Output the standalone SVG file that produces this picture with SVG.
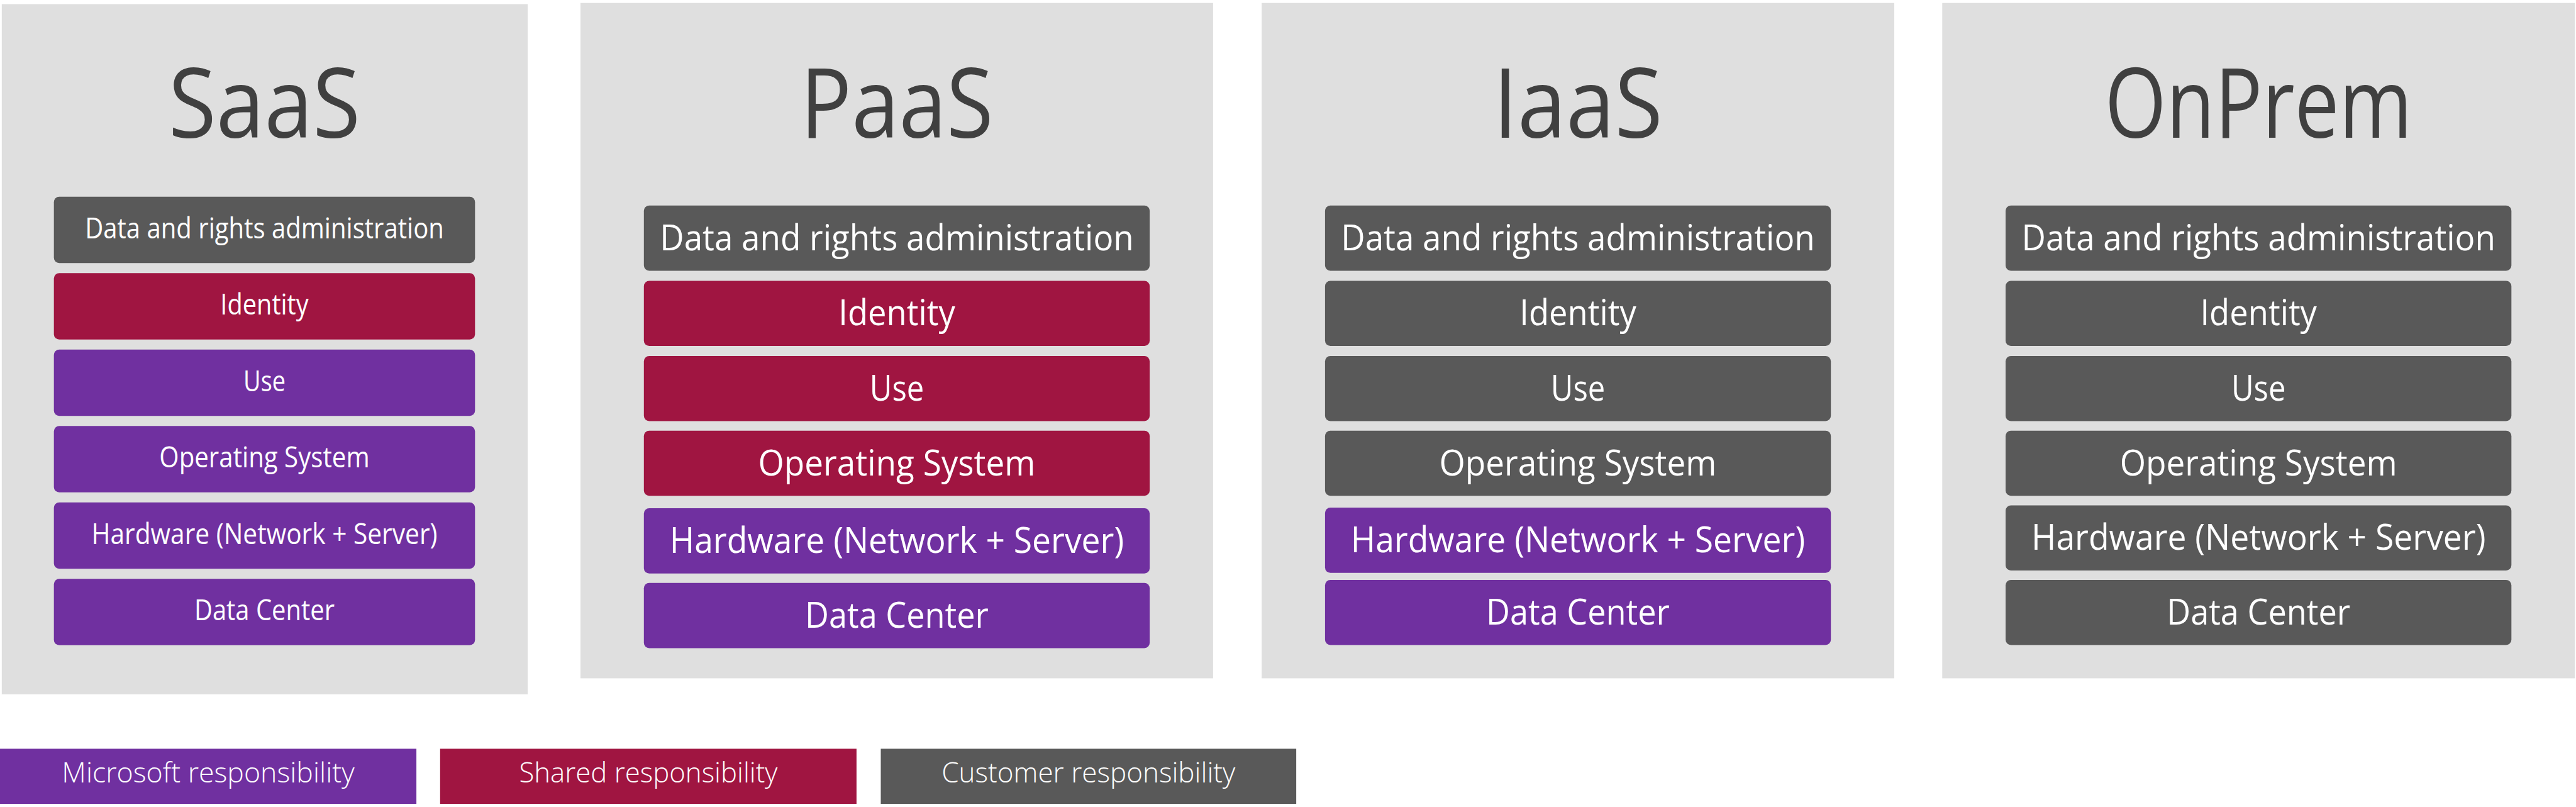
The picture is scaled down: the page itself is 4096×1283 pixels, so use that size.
<svg xmlns="http://www.w3.org/2000/svg" width="4096" height="1283" viewBox="0 0 4096 1283">
<style>
.bg{fill:#ffffff}
.panel{fill:#dfdfdf}
.g{fill:#595959}
.r{fill:#a01541}
.p{fill:#7030a0}
text{font-family:"Open Sans","Noto Sans","Liberation Sans",sans-serif;fill:#ffffff;text-anchor:middle}
.title{font-size:154px;fill:#404040}
.lg{font-size:57px}
.sm{font-size:45px}
.leg{font-size:45px;font-weight:300}
</style>
<rect class="bg" x="0" y="0" width="4096" height="1283"/>

<g id="saas">
<rect class="panel" x="2.8" y="6.6" width="836.3" height="1097.2"/>
<text class="title" x="420.5" y="219.4" textLength="305" lengthAdjust="spacingAndGlyphs">SaaS</text>
<g id="saas-data"><rect class="g" x="85.7" y="312.7" width="669.6" height="105.5" rx="8.5"/><text class="sm" x="420.5" y="378.7" textLength="570.7" lengthAdjust="spacingAndGlyphs">Data and rights administration</text></g>
<g id="saas-identity"><rect class="r" x="85.7" y="434.2" width="669.6" height="105.5" rx="8.5"/><text class="sm" x="420.5" y="500.2" textLength="140.3" lengthAdjust="spacingAndGlyphs">Identity</text></g>
<g id="saas-use"><rect class="p" x="85.7" y="555.7" width="669.6" height="105.5" rx="8.5"/><text class="sm" x="420.5" y="621.7" textLength="66.9" lengthAdjust="spacingAndGlyphs">Use</text></g>
<g id="saas-os"><rect class="p" x="85.7" y="677.2" width="669.6" height="105.5" rx="8.5"/><text class="sm" x="420.5" y="743.2" textLength="334.3" lengthAdjust="spacingAndGlyphs">Operating System</text></g>
<g id="saas-hw"><rect class="p" x="85.7" y="798.7" width="669.6" height="105.5" rx="8.5"/><text class="sm" x="420.5" y="864.7" textLength="550" lengthAdjust="spacingAndGlyphs">Hardware (Network + Server)</text></g>
<g id="saas-dc"><rect class="p" x="85.7" y="920.2" width="669.6" height="105.5" rx="8.5"/><text class="sm" x="420.5" y="986.2" textLength="223.2" lengthAdjust="spacingAndGlyphs">Data Center</text></g>
</g>

<g id="paas">
<rect class="panel" x="923.0" y="4.7" width="1005.9" height="1073.7"/>
<text class="title" x="1426" y="219.4" textLength="307" lengthAdjust="spacingAndGlyphs">PaaS</text>
<g id="paas-data"><rect class="g" x="1023.8" y="326.8" width="804.3" height="103.6" rx="8.5"/><text class="lg" x="1426" y="397.8" textLength="753.4" lengthAdjust="spacingAndGlyphs">Data and rights administration</text></g>
<g id="paas-identity"><rect class="r" x="1023.8" y="446.4" width="804.3" height="103.6" rx="8.5"/><text class="lg" x="1426" y="517.4" textLength="185.5" lengthAdjust="spacingAndGlyphs">Identity</text></g>
<g id="paas-use"><rect class="r" x="1023.8" y="566.0" width="804.3" height="103.6" rx="8.5"/><text class="lg" x="1426" y="637.0" textLength="86.6" lengthAdjust="spacingAndGlyphs">Use</text></g>
<g id="paas-os"><rect class="r" x="1023.8" y="684.7" width="804.3" height="103.6" rx="8.5"/><text class="lg" x="1426" y="755.7" textLength="440.8" lengthAdjust="spacingAndGlyphs">Operating System</text></g>
<g id="paas-hw"><rect class="p" x="1023.8" y="808.1" width="804.3" height="103.6" rx="8.5"/><text class="lg" x="1426" y="879.1" textLength="722.4" lengthAdjust="spacingAndGlyphs">Hardware (Network + Server)</text></g>
<g id="paas-dc"><rect class="p" x="1023.8" y="926.8" width="804.3" height="103.6" rx="8.5"/><text class="lg" x="1426" y="997.8" textLength="292" lengthAdjust="spacingAndGlyphs">Data Center</text></g>
</g>

<g id="iaas">
<rect class="panel" x="2006.1" y="4.7" width="1005.9" height="1073.7"/>
<text class="title" x="2509" y="219.4" textLength="269.4" lengthAdjust="spacingAndGlyphs">IaaS</text>
<g id="iaas-data"><rect class="g" x="2106.9" y="326.8" width="804.3" height="103.6" rx="8.5"/><text class="lg" x="2509" y="397.8" textLength="753.4" lengthAdjust="spacingAndGlyphs">Data and rights administration</text></g>
<g id="iaas-identity"><rect class="g" x="2106.9" y="446.4" width="804.3" height="103.6" rx="8.5"/><text class="lg" x="2509" y="517.4" textLength="185.5" lengthAdjust="spacingAndGlyphs">Identity</text></g>
<g id="iaas-use"><rect class="g" x="2106.9" y="566.0" width="804.3" height="103.6" rx="8.5"/><text class="lg" x="2509" y="637.0" textLength="86.6" lengthAdjust="spacingAndGlyphs">Use</text></g>
<g id="iaas-os"><rect class="g" x="2106.9" y="684.7" width="804.3" height="103.6" rx="8.5"/><text class="lg" x="2509" y="755.7" textLength="440.8" lengthAdjust="spacingAndGlyphs">Operating System</text></g>
<g id="iaas-hw"><rect class="p" x="2106.9" y="807.1" width="804.3" height="103.6" rx="8.5"/><text class="lg" x="2509" y="878.1" textLength="722.4" lengthAdjust="spacingAndGlyphs">Hardware (Network + Server)</text></g>
<g id="iaas-dc"><rect class="p" x="2106.9" y="922.0" width="804.3" height="103.6" rx="8.5"/><text class="lg" x="2509" y="993.0" textLength="292" lengthAdjust="spacingAndGlyphs">Data Center</text></g>
</g>

<g id="onprem">
<rect class="panel" x="3088.3" y="4.7" width="1005.9" height="1073.7"/>
<text class="title" x="3591.2" y="219.4" textLength="488.8" lengthAdjust="spacingAndGlyphs">OnPrem</text>
<g id="onprem-data"><rect class="g" x="3189.0" y="326.8" width="804.3" height="103.6" rx="8.5"/><text class="lg" x="3591.2" y="397.8" textLength="753.4" lengthAdjust="spacingAndGlyphs">Data and rights administration</text></g>
<g id="onprem-identity"><rect class="g" x="3189.0" y="446.4" width="804.3" height="103.6" rx="8.5"/><text class="lg" x="3591.2" y="517.4" textLength="185.5" lengthAdjust="spacingAndGlyphs">Identity</text></g>
<g id="onprem-use"><rect class="g" x="3189.0" y="566.0" width="804.3" height="103.6" rx="8.5"/><text class="lg" x="3591.2" y="637.0" textLength="86.6" lengthAdjust="spacingAndGlyphs">Use</text></g>
<g id="onprem-os"><rect class="g" x="3189.0" y="684.7" width="804.3" height="103.6" rx="8.5"/><text class="lg" x="3591.2" y="755.7" textLength="440.8" lengthAdjust="spacingAndGlyphs">Operating System</text></g>
<g id="onprem-hw"><rect class="g" x="3189.0" y="803.4" width="804.3" height="103.6" rx="8.5"/><text class="lg" x="3591.2" y="874.4" textLength="722.4" lengthAdjust="spacingAndGlyphs">Hardware (Network + Server)</text></g>
<g id="onprem-dc"><rect class="g" x="3189.0" y="922.0" width="804.3" height="103.6" rx="8.5"/><text class="lg" x="3591.2" y="993.0" textLength="292" lengthAdjust="spacingAndGlyphs">Data Center</text></g>
</g>

<g id="legend-microsoft"><rect class="p" x="0" y="1190.4" width="662.1" height="87.6"/><text class="leg" x="331" y="1244.1" textLength="465.3" lengthAdjust="spacingAndGlyphs">Microsoft responsibility</text></g>
<g id="legend-shared"><rect class="r" x="699.8" y="1190.4" width="662.1" height="87.6"/><text class="leg" x="1030.9" y="1244.1" textLength="411" lengthAdjust="spacingAndGlyphs">Shared responsibility</text></g>
<g id="legend-customer"><rect class="g" x="1400.5" y="1190.4" width="660.6" height="87.6"/><text class="leg" x="1730.8" y="1244.1" textLength="467" lengthAdjust="spacingAndGlyphs">Customer responsibility</text></g>
</svg>
